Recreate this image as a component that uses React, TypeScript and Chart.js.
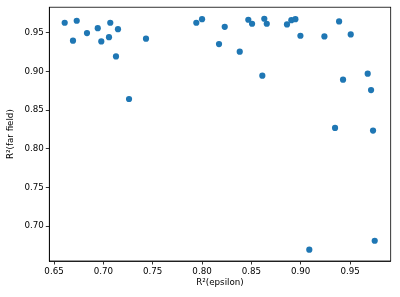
import React, { useEffect, useRef } from "react";
import { Chart, registerables } from "chart.js";

Chart.register(...registerables);

const xValues = [
  0.6608, 0.6692, 0.673, 0.6834, 0.6943, 0.6979, 0.7057, 0.707, 0.7148, 0.7128,
  0.726, 0.7432, 0.7942, 0.8, 0.823, 0.8172, 0.8382, 0.8469, 0.8507, 0.8631,
  0.8656, 0.8611, 0.8861, 0.8905, 0.8946, 0.8997, 0.924, 0.9389, 0.9507, 0.9679,
  0.9429, 0.9713, 0.9348, 0.9733, 0.9087, 0.975,
];
const yValues = [
  0.9629, 0.9397, 0.9655, 0.9495, 0.9559, 0.9388, 0.9443, 0.9629, 0.9546, 0.9194,
  0.8643, 0.9423, 0.9629, 0.9676, 0.9577, 0.9353, 0.9255, 0.9668, 0.9616, 0.9681,
  0.9616, 0.8945, 0.9607, 0.9663, 0.9676, 0.9461, 0.9452, 0.9646, 0.9478, 0.8971,
  0.8893, 0.8759, 0.8269, 0.8235, 0.6694, 0.681,
];
const xTicks = [0.65, 0.7, 0.75, 0.8, 0.85, 0.9, 0.95];
const yTicks = [0.7, 0.75, 0.8, 0.85, 0.9, 0.95];
const xLabel = "R²(epsilon)";
const yLabel = "R²(far field)";

const FONT = { family: "'DejaVu Sans', sans-serif", size: 8.7 };

export default function App() {
  const ref = useRef<HTMLCanvasElement>(null);
  useEffect(() => {
    document.body.style.margin = "0";
    const frame = {
      id: "frame",
      afterDatasetsDraw(chart: any) {
        const { ctx, chartArea: a } = chart;
        ctx.save();
        ctx.strokeStyle = "#000";
        ctx.lineWidth = 0.8;
        ctx.strokeRect(a.left, a.top, a.right - a.left, a.bottom - a.top);
        ctx.restore();
      },
    };
    const chart = new Chart(ref.current!, {
      type: "scatter",
      data: {
        datasets: [
          {
            data: xValues.map((x, i) => ({ x, y: yValues[i] })),
            backgroundColor: "#1f77b4",
            borderColor: "#1f77b4",
            borderWidth: 0,
            pointRadius: 3.1,
          },
        ],
      },
      options: {
        animation: false,
        responsive: false,
        devicePixelRatio: 1,
        layout: { padding: { left: 0, right: 9.3, top: 6.7, bottom: 0 } },
        plugins: { legend: { display: false }, tooltip: { enabled: false } },
        scales: {
          x: {
            type: "linear",
            min: 0.6452,
            max: 0.9912,
            afterBuildTicks: (s: any) => {
              s.ticks = xTicks.map((v) => ({ value: v }));
            },
            afterFit: (s: any) => {
              s.height = 36;
            },
            ticks: {
              font: FONT,
              color: "#000",
              padding: 2,
              maxRotation: 0,
              callback: (v: any) => Number(v).toFixed(2),
            },
            grid: {
              drawOnChartArea: false,
              drawTicks: true,
              tickLength: 3.5,
              color: "#000",
              lineWidth: 0.8,
            },
            border: { display: true, color: "#000", width: 0.8 },
            title: {
              display: true,
              text: xLabel,
              font: FONT,
              color: "#000",
              padding: { top: 0, bottom: 8.8 },
            },
          },
          y: {
            type: "linear",
            min: 0.6548,
            max: 0.983,
            afterBuildTicks: (s: any) => {
              s.ticks = yTicks.map((v) => ({ value: v }));
            },
            afterFit: (s: any) => {
              s.width = 49.3;
            },
            ticks: {
              font: FONT,
              color: "#000",
              padding: 2,
              callback: (v: any) => Number(v).toFixed(2),
            },
            grid: {
              drawOnChartArea: false,
              drawTicks: true,
              tickLength: 3.5,
              color: "#000",
              lineWidth: 0.8,
            },
            border: { display: true, color: "#000", width: 0.8 },
            title: {
              display: true,
              text: yLabel,
              font: FONT,
              color: "#000",
              padding: { top: 5.8, bottom: 0 },
            },
          },
        },
      },
      plugins: [frame],
    } as any);
    return () => chart.destroy();
  }, []);
  return <canvas ref={ref} width={400} height={297} style={{ display: "block" }} />;
}
